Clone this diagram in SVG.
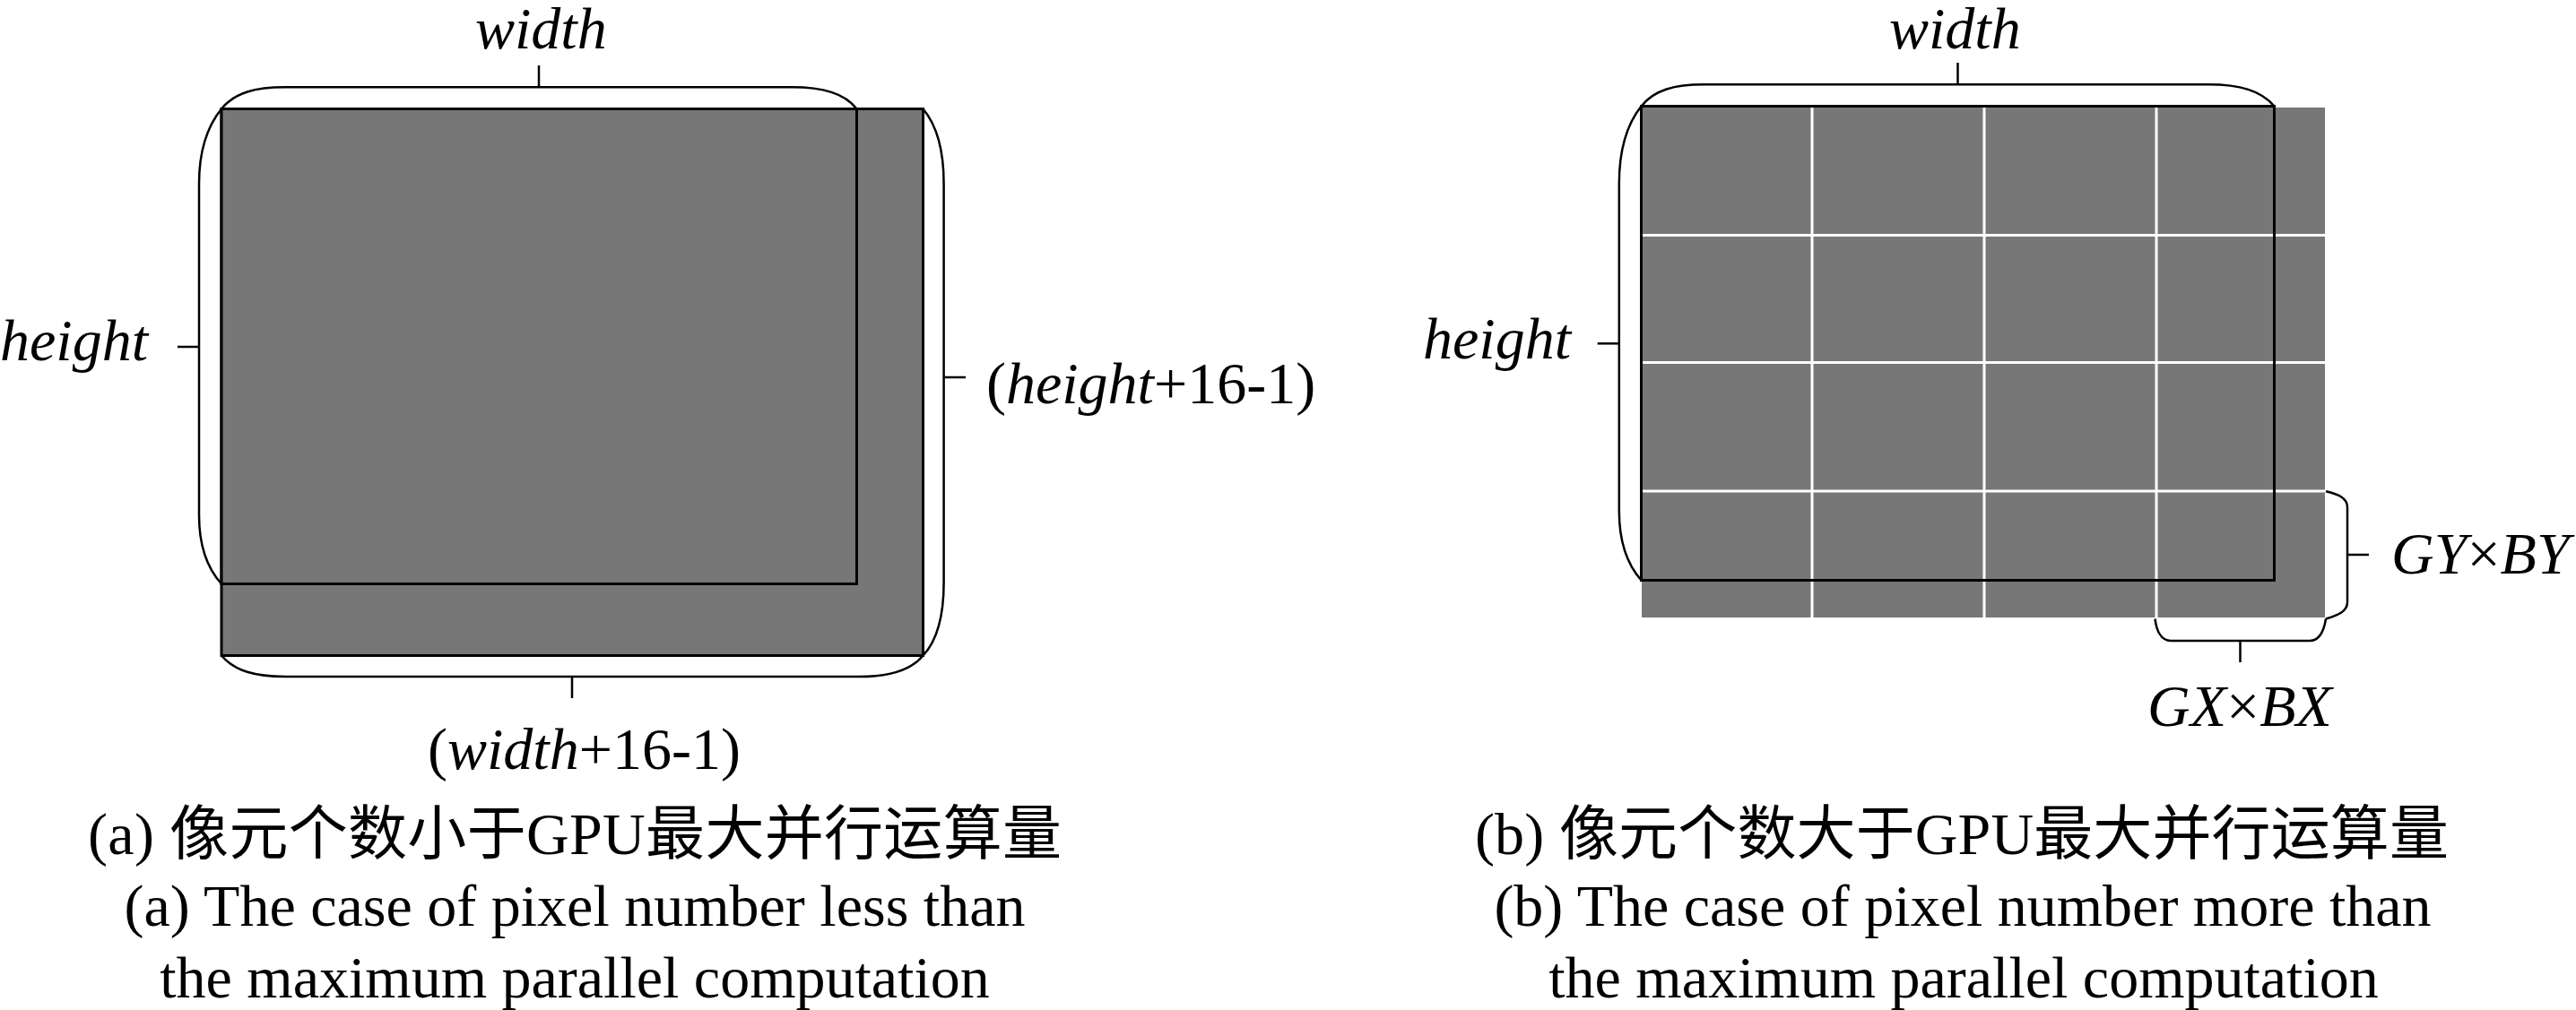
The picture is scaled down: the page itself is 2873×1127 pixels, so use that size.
<svg xmlns="http://www.w3.org/2000/svg" width="2873" height="1127" viewBox="0 0 2873 1127">
<style>
.t{font-family:"Liberation Serif","Times New Roman","Noto Sans CJK SC",serif;font-size:66px;fill:#000}
.i{font-style:italic}
.cap{font-family:"Liberation Serif","Noto Sans CJK SC",serif;font-size:66px;fill:#000;text-anchor:middle}
.gray{fill:#777777}
.box{fill:#777777;stroke:#000;stroke-width:3}
.frame{fill:none;stroke:#000;stroke-width:3}
.grid{stroke:#fff;stroke-width:3;fill:none}
.br{fill:none;stroke:#000;stroke-width:2.5}
</style>
<rect width="2873" height="1127" fill="#fff"/>

<g id="panel-a">
  <rect id="a-outer" class="box" x="247" y="121.5" width="782.5" height="610"/>
  <rect id="a-inner" class="box" x="247" y="121.5" width="708.5" height="530"/>
</g>

<g id="panel-b">
  <rect id="b-gray" class="gray" x="1831" y="120" width="762" height="569"/>
  <g class="grid">
    <line x1="2021" y1="120" x2="2021" y2="689"/>
    <line x1="2213" y1="120" x2="2213" y2="689"/>
    <line x1="2405" y1="120" x2="2405" y2="689"/>
    <line x1="1831" y1="262.5" x2="2593" y2="262.5"/>
    <line x1="1831" y1="404.5" x2="2593" y2="404.5"/>
    <line x1="1831" y1="548" x2="2593" y2="548"/>
  </g>
  <rect id="b-frame" class="frame" x="1830.5" y="118.5" width="706" height="529"/>
</g>

<g id="connectors" class="br">
  <path d="M247,121.5 C262,103 285,97.3 318,97.3 L883,97.3 C918,97.3 942,104 955.5,121.5"/>
  <line x1="601" y1="73" x2="601" y2="97.3"/>
  <path d="M247,121.5 C232,140 222,165 222,205 L222,575 C222,610 232,635 247,651.5"/>
  <line x1="198" y1="387" x2="222" y2="387"/>
  <path d="M1029.5,121.5 C1045,140 1052.6,168 1052.6,205 L1052.6,650 C1052.6,690 1045,715 1029.5,731.5"/>
  <line x1="1052.6" y1="421" x2="1077" y2="421"/>
  <path d="M247,731.5 C262,749 285,755 318,755 L958,755 C992,755 1016,748 1029.5,731.5"/>
  <line x1="638" y1="755" x2="638" y2="779"/>

  <path d="M1830.5,118.5 C1845,100 1868,94.3 1900.5,94.3 L2463,94.3 C2498,94.3 2522,101 2536.5,118.5"/>
  <line x1="2183.5" y1="70" x2="2183.5" y2="94.3"/>
  <path d="M1830.5,118.5 C1815,138 1805.8,165 1805.8,205 L1805.8,570 C1805.8,605 1815,630 1830.5,647.5"/>
  <line x1="1781.7" y1="383.3" x2="1805.8" y2="383.3"/>
  <path d="M2594,548.3 C2606,551 2618,555 2618,566 L2618,672 C2618,683 2606,687 2594,690.5"/>
  <line x1="2618" y1="619" x2="2642" y2="619"/>
  <path d="M2403.5,690.5 C2405,703 2410,715 2421,715 L2576,715 C2587,715 2592,703 2594,690.5"/>
  <line x1="2498.5" y1="715" x2="2498.5" y2="739"/>
</g>

<g id="labels">
  <text class="t i" x="530" y="54">width</text>
  <text class="t i" x="0" y="402">height</text>
  <text class="t" x="1100" y="450">(<tspan class="i">height</tspan>+16-1)</text>
  <text class="t" x="477" y="858">(<tspan class="i">width</tspan>+16-1)</text>
  <text class="t i" x="2107" y="54">width</text>
  <text class="t i" x="1587" y="400">height</text>
  <text class="t" x="2667" y="640"><tspan class="i">GY</tspan>×<tspan class="i">BY</tspan></text>
  <text class="t" x="2395" y="810"><tspan class="i">GX</tspan>×<tspan class="i">BX</tspan></text>
</g>

<g id="caption-a">
  <text class="cap" x="641" y="953" textLength="1086" lengthAdjust="spacing">(a) 像元个数小于GPU最大并行运算量</text>
  <text class="cap" x="641" y="1033">(a) The case of pixel number less than</text>
  <text class="cap" x="641" y="1113">the maximum parallel computation</text>
</g>
<g id="caption-b">
  <text class="cap" x="2188" y="953" textLength="1086" lengthAdjust="spacing">(b) 像元个数大于GPU最大并行运算量</text>
  <text class="cap" x="2189" y="1033">(b) The case of pixel number more than</text>
  <text class="cap" x="2190" y="1113">the maximum parallel computation</text>
</g>
</svg>
